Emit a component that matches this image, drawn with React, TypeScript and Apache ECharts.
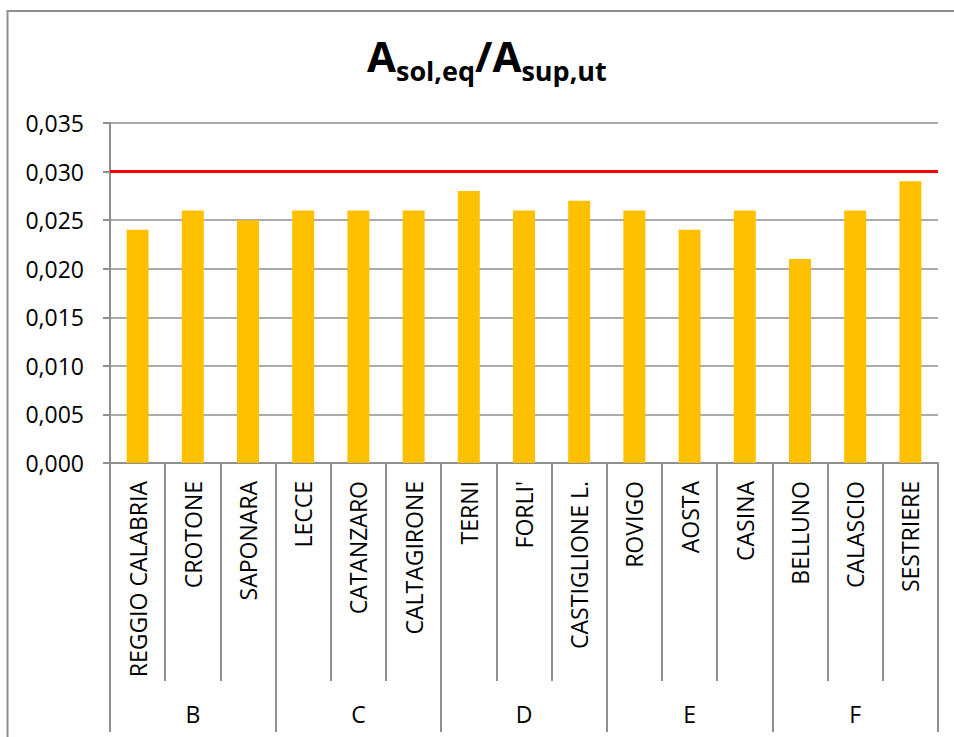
import React, { useEffect, useRef } from "react";
import * as echarts from "echarts";

const cities = [
  "REGGIO CALABRIA", "CROTONE", "SAPONARA", "LECCE", "CATANZARO", "CALTAGIRONE",
  "TERNI", "FORLI'", "CASTIGLIONE L.", "ROVIGO", "AOSTA", "CASINA",
  "BELLUNO", "CALASCIO", "SESTRIERE",
];
const groups = ["B", "C", "D", "E", "F"];
const values = [
  0.024, 0.026, 0.025, 0.026, 0.026, 0.026,
  0.028, 0.026, 0.027, 0.026, 0.024, 0.026,
  0.021, 0.026, 0.029,
];
const limitValue = 0.03;
const yTicks = { min: 0, max: 0.035, interval: 0.005 };

const FONT = "'Open Sans', 'Noto Sans', sans-serif";
const GRAY = "#8f8f8f";

export default function App() {
  const ref = useRef<HTMLDivElement>(null);
  useEffect(() => {
    if (!ref.current) return;
    const chart = echarts.init(ref.current, null, { renderer: "svg" });
    chart.setOption({
      animation: false,
      backgroundColor: "#fff",
      textStyle: { fontFamily: FONT },
      title: {
        text: "{a|A}{s|sol,eq}{a|/A}{s|sup,ut}",
        left: 367,
        top: 26,
        padding: 0,
        textStyle: {
          rich: {
            a: { fontSize: 42, fontWeight: "bold", color: "#000", fontFamily: FONT, lineHeight: 50, verticalAlign: "bottom" },
            s: { fontSize: 27, fontWeight: "bold", color: "#000", fontFamily: FONT, lineHeight: 50, verticalAlign: "bottom", padding: [0, 0, -8, 0] },
          },
        },
      },
      graphic: [
        {
          type: "rect",
          shape: { x: 7.5, y: 11, width: 970, height: 760 },
          style: { fill: "none", stroke: GRAY, lineWidth: 2 },
          silent: true,
        },
      ],
      grid: { left: 110, right: 16, top: 123, bottom: 274, containLabel: false },
      xAxis: [
        {
          type: "category",
          data: cities,
          position: "bottom",
          axisLine: { show: true, lineStyle: { color: GRAY, width: 2 } },
          axisTick: { show: true, interval: 0, length: 218, lineStyle: { color: GRAY, width: 2 } },
          axisLabel: {
            interval: 0,
            rotate: 90,
            margin: 18,
            fontSize: 23,
            color: "#000",
            fontFamily: FONT,
          },
        },
        {
          type: "category",
          data: groups,
          position: "bottom",
          axisLine: { show: false },
          axisTick: { show: true, interval: 0, length: 269, lineStyle: { color: GRAY, width: 2 } },
          axisLabel: { interval: 0, margin: 239, fontSize: 23, color: "#000", fontFamily: FONT },
        },
      ],
      yAxis: {
        type: "value",
        min: yTicks.min,
        max: yTicks.max,
        interval: yTicks.interval,
        axisLine: { show: true, lineStyle: { color: GRAY, width: 2 } },
        axisTick: { show: true, length: 7, lineStyle: { color: GRAY, width: 2 } },
        splitLine: { show: true, lineStyle: { color: GRAY, width: 1.5 } },
        axisLabel: {
          fontSize: 23,
          color: "#000",
          margin: 26,
          fontFamily: FONT,
          formatter: (v: number) => v.toFixed(3).replace(".", ","),
        },
      },
      series: [
        {
          type: "bar",
          data: values,
          xAxisIndex: 0,
          barWidth: 22,
          itemStyle: { color: "#FFC000" },
          markLine: {
            silent: true,
            symbol: "none",
            label: { show: false },
            lineStyle: { color: "#FF0000", width: 3, type: "solid" },
            data: [{ yAxis: limitValue }],
          },
        },
      ],
    });
    return () => chart.dispose();
  }, []);
  return (
    <div
      ref={ref}
      style={{ position: "fixed", left: 0, top: 0, width: 954, height: 737 }}
    />
  );
}
